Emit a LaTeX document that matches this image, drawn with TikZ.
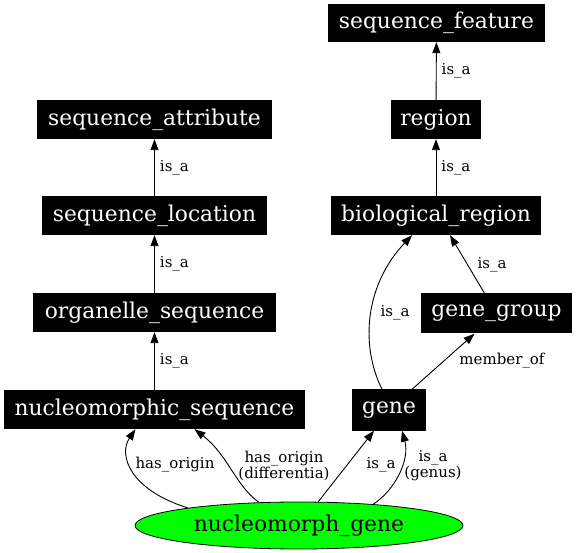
\documentclass[tikz,border=0pt]{standalone}
\usepackage{fontspec}
\setmainfont{DejaVu Serif}
\usetikzlibrary{arrows.meta,shapes.geometric}
\tikzset{
  term/.style={fill=black,text=white,inner sep=0pt,font=\fontsize{21.8}{24}\selectfont},
  edge/.style={line width=0.9pt,-{Triangle[length=11pt,width=8pt]}},
  elab/.style={font=\fontsize{15}{16}\selectfont,inner sep=0pt,align=center}
}
\begin{document}
\begin{tikzpicture}[x=1pt,y=-1pt]
\useasboundingbox (0,0) rectangle (576,553);
\node[term,minimum width=217pt,minimum height=38pt] (sf) at (436.5,23) {sequence\_feature};
\node[term,minimum width=235pt,minimum height=39pt] (sa) at (154.5,119.5) {sequence\_attribute};
\node[term,minimum width=90pt,minimum height=39pt] (rg) at (436,119.5) {region};
\node[term,minimum width=225pt,minimum height=39pt] (sl) at (154.5,215.5) {sequence\_location};
\node[term,minimum width=210pt,minimum height=39pt] (br) at (436,215.5) {biological\_region};
\node[term,minimum width=243pt,minimum height=39pt] (os) at (154.5,312.5) {organelle\_sequence};
\node[term,minimum width=151pt,minimum height=40pt] (gg) at (496.5,313.5) {gene\_group};
\node[term,minimum width=301pt,minimum height=39pt] (ns) at (154.5,409.5) {nucleomorphic\_sequence};
\node[term,minimum width=74pt,minimum height=41pt] (gn) at (389,410) {gene};
\node[ellipse,draw=black,line width=0.8pt,fill=green,inner sep=0pt,minimum width=328pt,minimum height=47pt,font=\fontsize{21.8}{24}\selectfont] (ng) at (299,525.5) {nucleomorph\_gene};

\draw[edge] (rg) -- (sf) node[elab,midway,right=5pt] {is\_a};
\draw[edge] (br) -- (rg) node[elab,midway,right=5pt] {is\_a};
\draw[edge] (sl) -- (sa) node[elab,midway,right=5pt] {is\_a};
\draw[edge] (os) -- (sl) node[elab,midway,right=5pt] {is\_a};
\draw[edge] (ns) -- (os) node[elab,midway,right=5pt] {is\_a};

\draw[edge] ([xshift=-12pt]gg.north) -- ([xshift=14pt]br.south);
\node[elab] (l1) at (492,265) {is\_a};
\draw[edge] ([xshift=-7pt]gn.north) .. controls (360,345) and (365,285) .. ([xshift=-24pt]br.south);
\node[elab] (l2) at (395,313) {is\_a};
\draw[edge] ([xshift=23pt]gn.north) -- ([xshift=-22pt]gg.south);
\node[elab] (l3) at (502,361) {member\_of};

\draw[edge] (ng.171) .. controls (130,490) and (118,455) .. ([xshift=-19pt]ns.south);
\node[elab] (l4) at (175,465) {has\_origin};
\draw[edge] (ng.150) .. controls (235,485) and (228,455) .. ([xshift=40pt]ns.south);
\node[elab] (l5) at (284,466) {has\_origin\\(differentia)};
\draw[edge] (ng.51) -- ([xshift=-15pt]gn.south);
\node[elab] (l6) at (381,465) {is\_a};
\draw[edge] (ng.16) .. controls (395,490) and (410,460) .. ([xshift=13pt]gn.south);
\node[elab] (l7) at (433,466) {is\_a\\(genus)};
\end{tikzpicture}
\end{document}
